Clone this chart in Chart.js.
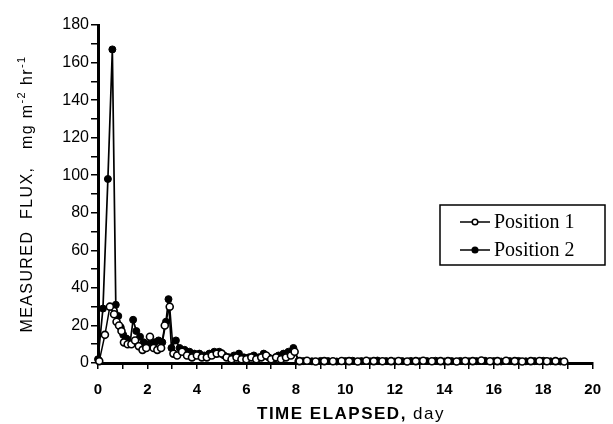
<!DOCTYPE html>
<html>
<head>
<meta charset="utf-8">
<script src="https://cdn.jsdelivr.net/npm/chart.js@4.4.0/dist/chart.umd.min.js"></script>
<style>
  body { margin: 0; background: #fff; }
  #wrap { width: 613px; height: 424px; position: relative; }
</style>
</head>
<body>
<div id="wrap"><canvas id="fluxChart"></canvas></div>
<script>
// Datos (dia, flujo mg m-2 hr-1)
const seriesNames = ['Position 1', 'Position 2'];

const days1 = [0.05, 0.28, 0.48, 0.65, 0.75, 0.85, 0.95, 1.05, 1.2, 1.35,
  1.5, 1.65, 1.8, 1.95, 2.1, 2.25, 2.4, 2.55, 2.7, 2.9,
  3.05, 3.2, 3.4, 3.6, 3.8, 4.0, 4.2, 4.4, 4.6, 4.8,
  5.0, 5.2, 5.4, 5.6, 5.8, 6.0, 6.2, 6.4, 6.6, 6.8,
  7.0, 7.2, 7.4, 7.6, 7.8, 7.95,
  8.15, 8.45, 8.8, 9.15, 9.5, 9.85, 10.15, 10.5, 10.85, 11.15,
  11.5, 11.85, 12.15, 12.5, 12.85, 13.15, 13.5, 13.85, 14.15, 14.5,
  14.85, 15.15, 15.5, 15.85, 16.15, 16.5, 16.85, 17.15, 17.5, 17.85,
  18.15, 18.5, 18.85];
const flux1 = [1, 15, 30, 26, 22, 20, 17, 11, 10, 10,
  12, 9, 7, 8, 14, 8, 7, 8, 20, 30,
  5, 4, 6, 4, 3, 4, 3, 3, 4, 5,
  5, 3, 2, 3, 2, 2, 3, 2, 3, 4,
  2, 3, 2, 3, 4, 6,
  1, 1.2, 0.8, 1, 0.9, 1.1, 1, 0.8, 1.2, 1,
  0.9, 1, 1.1, 0.8, 1, 1.2, 0.9, 1, 1, 0.8,
  1.1, 1, 1.3, 0.9, 1, 1.2, 1, 0.8, 1, 1.1,
  0.9, 1, 0.8];

const days2 = [0.0, 0.2, 0.4, 0.58, 0.72, 0.82, 0.92, 1.02, 1.15, 1.3,
  1.42, 1.55, 1.7, 1.85, 2.0, 2.15, 2.3, 2.45, 2.6, 2.75,
  2.85, 2.97, 3.15, 3.3, 3.5, 3.7, 3.9, 4.1, 4.3, 4.5,
  4.7, 4.9, 5.1, 5.3, 5.5, 5.7, 5.9, 6.1, 6.3, 6.5,
  6.7, 6.9, 7.1, 7.3, 7.5, 7.7, 7.9, 8.1,
  8.3, 8.65, 9.0, 9.3, 9.65, 10.0, 10.3, 10.65, 11.0, 11.3,
  11.65, 12.0, 12.3, 12.65, 13.0, 13.3, 13.65, 14.0, 14.3, 14.65,
  15.0, 15.3, 15.65, 16.0, 16.3, 16.65, 17.0, 17.3, 17.65, 18.0,
  18.3, 18.7];
const flux2 = [2, 29, 98, 167, 31, 25, 19, 15, 13, 11,
  23, 17, 14, 11, 10, 10, 11, 12, 11, 22,
  34, 8, 12, 8, 7, 6, 5, 5, 4, 5,
  6, 6, 4, 3, 4, 5, 3, 3, 4, 3,
  5, 3, 2, 4, 5, 6, 8, 1,
  1, 0.9, 1.1, 1, 0.8, 1, 1.2, 1, 0.9, 1.3,
  1, 0.8, 1, 1.1, 0.9, 1, 1.2, 0.8, 1, 1.1,
  0.9, 1, 1.2, 1, 0.8, 1, 1.1, 0.9, 1, 1.2,
  0.9, 0.8];

// Ejes
const xMin = 0, xMax = 20, xStep = 1, xLabelEvery = 2;
const yMin = 0, yMax = 180, yStep = 10, yLabelEvery = 20;

function toPoints(xs, ys) {
  return xs.map((x, i) => ({ x: x, y: ys[i] }));
}

// Titulos de ejes y leyenda dibujados a mano (superindices, pesos mezclados)
const extras = {
  id: 'extras',
  afterDraw(chart) {
    const ctx = chart.ctx;
    const area = chart.chartArea;
    ctx.save();
    ctx.fillStyle = '#000';
    ctx.textBaseline = 'alphabetic';

    // Titulo eje Y
    const yParts = [
      { t: 'MEASURED  FLUX,   mg m', f: '16px "Liberation Sans", Arial, sans-serif', dy: 0 },
      { t: '-2', f: '11px "Liberation Sans", Arial, sans-serif', dy: -7 },
      { t: ' hr', f: '16px "Liberation Sans", Arial, sans-serif', dy: 0 },
      { t: '-1', f: '11px "Liberation Sans", Arial, sans-serif', dy: -7 }
    ];
    ctx.letterSpacing = '1.4px';
    let total = 0;
    yParts.forEach(p => { ctx.font = p.f; p.w = ctx.measureText(p.t).width; total += p.w; });
    ctx.translate(32, (area.top + area.bottom) / 2);
    ctx.rotate(-Math.PI / 2);
    let pos = -total / 2;
    yParts.forEach(p => { ctx.font = p.f; ctx.fillText(p.t, pos, p.dy); pos += p.w; });
    ctx.setTransform(1, 0, 0, 1, 0, 0);

    // Titulo eje X
    const xParts = [
      { t: 'TIME ELAPSED,', f: 'bold 17px "Liberation Sans", Arial, sans-serif' },
      { t: ' day', f: '17px "Liberation Sans", Arial, sans-serif' }
    ];
    ctx.letterSpacing = '1.5px';
    total = 0;
    xParts.forEach(p => { ctx.font = p.f; p.w = ctx.measureText(p.t).width; total += p.w; });
    pos = 351 - total / 2;
    xParts.forEach(p => { ctx.font = p.f; ctx.fillText(p.t, pos, 419); pos += p.w; });
    ctx.letterSpacing = '0px';

    // Leyenda
    const bx = 440, by = 205, bw = 165, bh = 60;
    ctx.lineWidth = 1.5;
    ctx.strokeStyle = '#000';
    ctx.strokeRect(bx, by, bw, bh);
    ctx.font = '20px "Liberation Serif", "Times New Roman", serif';
    ctx.textBaseline = 'middle';
    chart.data.datasets.forEach((ds, i) => {
      const cy = by + 17 + i * 28;
      ctx.beginPath();
      ctx.lineWidth = 1.5;
      ctx.moveTo(bx + 20, cy);
      ctx.lineTo(bx + 50, cy);
      ctx.stroke();
      ctx.beginPath();
      ctx.arc(bx + 35, cy, 2.8, 0, Math.PI * 2);
      ctx.fillStyle = ds.pointBackgroundColor;
      ctx.fill();
      ctx.stroke();
      ctx.fillStyle = '#000';
      ctx.fillText(ds.label, bx + 54, cy + 1);
    });
    ctx.restore();
  }
};

const ctx = document.getElementById('fluxChart').getContext('2d');
const fluxChart = new Chart(ctx, {
  type: 'scatter',
  data: {
    datasets: [
      {
        label: seriesNames[0],
        data: toPoints(days1, flux1),
        showLine: true,
        borderColor: '#000',
        borderWidth: 1.5,
        pointRadius: 3.5,
        pointBackgroundColor: '#fff',
        pointBorderColor: '#000',
        pointBorderWidth: 1.6,
        clip: false
      },
      {
        label: seriesNames[1],
        data: toPoints(days2, flux2),
        showLine: true,
        borderColor: '#000',
        borderWidth: 1.7,
        pointRadius: 3.5,
        pointBackgroundColor: '#000',
        pointBorderColor: '#000',
        pointBorderWidth: 1,
        clip: false
      }
    ]
  },
  options: {
    responsive: true,
    maintainAspectRatio: false,
    animation: false,
    layout: { padding: { top: 25, right: 11, left: 0, bottom: 0 } },
    plugins: {
      legend: { display: false },
      tooltip: { enabled: false }
    },
    scales: {
      x: {
        type: 'linear',
        min: xMin,
        max: xMax,
        afterFit: (scale) => { scale.height = 61; },
        border: { color: '#000', width: 3 },
        grid: { drawOnChartArea: false, drawTicks: true, tickLength: 6, color: '#000', lineWidth: 1.5 },
        ticks: {
          stepSize: xStep,
          autoSkip: false,
          maxRotation: 0,
          padding: 12,
          color: '#000',
          font: { family: '"Liberation Sans", Arial, sans-serif', size: 15, weight: 'bold' },
          callback: (v) => (v % xLabelEvery === 0 ? v : '')
        }
      },
      y: {
        min: yMin,
        max: yMax,
        afterFit: (scale) => { scale.width = 98; },
        border: { color: '#000', width: 3 },
        grid: { drawOnChartArea: false, drawTicks: true, tickLength: 7, color: '#000', lineWidth: 1.5 },
        ticks: {
          stepSize: yStep,
          autoSkip: false,
          padding: 2,
          color: '#000',
          font: { family: '"Liberation Sans", Arial, sans-serif', size: 16 },
          callback: (v) => (v % yLabelEvery === 0 ? v : '')
        }
      }
    }
  },
  plugins: [extras]
});
</script>
</body>
</html>
